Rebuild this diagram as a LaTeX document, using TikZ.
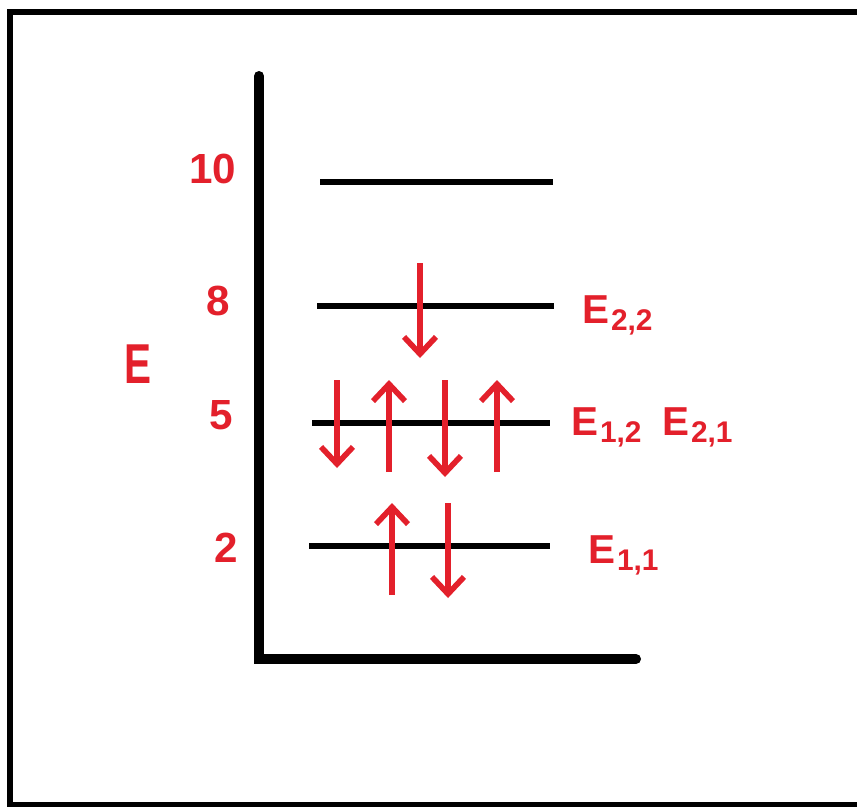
\documentclass[tikz,border=0pt]{standalone}
\usepackage{fontspec}
\setmainfont{Liberation Sans}
\usepackage{tikz}
\usetikzlibrary{arrows.meta}
\definecolor{spinred}{HTML}{E3202B}
\newcommand{\Esub}[1]{E\hspace{1pt}\raisebox{-4pt}{\fontsize{17}{17}\selectfont #1}}
\tikzset{
  frame/.style={line width=3.4pt},
  axis/.style={line width=5.7pt,line cap=round},
  level/.style={line width=3pt},
  spin/.style={draw=spinred,line width=3.2pt,-{Straight Barb[length=3.4mm,width=6.4mm]}},
  tick/.style={text=spinred,font=\fontsize{24}{24}\selectfont\bfseries,inner sep=0pt},
  elab/.style={text=spinred,font=\fontsize{23}{23}\selectfont\bfseries,inner sep=0pt,anchor=base west},
}

\begin{document}
\begin{tikzpicture}[x=0.02cm,y=-0.02cm]
  \useasboundingbox (0,0) rectangle (857,806);
  \clip (0,0) rectangle (857,806);
  % frame
  \coordinate (fr1) at (870,12); \coordinate (fr2) at (10,12);
  \coordinate (fr3) at (10,805); \coordinate (fr4) at (870,805);
  \draw[frame] (fr1) -- (fr2) -- (fr3) -- (fr4);
  % axes
  \coordinate (top) at (259,76); \coordinate (orig) at (259,659); \coordinate (xend) at (636,659);
  \draw[axis] (top) -- (orig) -- (xend);
  \node[tick,font=\fontsize{32}{32}\selectfont\bfseries] (elab) at (138,364) {\scalebox{0.72}[1]{E}};
  % levels
  \foreach \y/\xa/\xb/\n/\tx/\ty in {182/320/553/10/213/169,306/317/554/8/218/301,423/312/550/5/221/415,546/309/550/2/226/548}{
    \coordinate (l\n a) at (\xa,\y); \coordinate (l\n b) at (\xb,\y);
    \draw[level] (l\n a) -- (l\n b);
    \node[tick] (t\n) at (\tx,\ty) {\n};
  }
  \node[elab] (e22) at (582,323) {\Esub{2,2}};
  \node[elab] (e12) at (571,435) {\Esub{1,2}};
  \node[elab] (e21) at (662,435) {\Esub{2,1}};
  \node[elab] (e11) at (588,563) {\Esub{1,1}};
  % spins
  \foreach \x/\ya/\yb [count=\i] in {420/263/358,337/380/468,389/472/380,445/380/477,497/472/380,392/595/503,448/503/598}{
    \coordinate (s\i a) at (\x,\ya); \coordinate (s\i b) at (\x,\yb);
    \draw[spin] (s\i a) -- (s\i b);
  }
\end{tikzpicture}
\end{document}
